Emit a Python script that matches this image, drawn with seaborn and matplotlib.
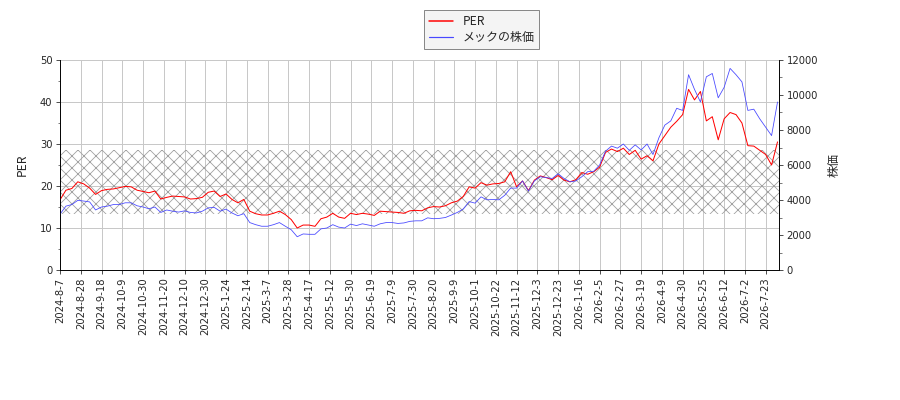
import numpy as np
import pandas as pd
import matplotlib
matplotlib.use('Agg')
import matplotlib.pyplot as plt
import seaborn as sns

# PER (4取引日ごとに読み取り)
per = [16.7, 19.0, 19.4, 21.0, 20.5, 19.5, 18.0, 18.9, 19.2, 19.3,
       19.6, 19.9, 19.8, 19.0, 18.7, 18.4, 18.8, 16.9, 17.3, 17.6,
       17.5, 17.4, 16.9, 17.0, 17.3, 18.5, 18.8, 17.5, 18.1, 16.8,
       16.0, 16.8, 14.0, 13.4, 13.1, 13.1, 13.5, 14.0, 13.2, 12.0,
       10.0, 10.7, 10.7, 10.4, 12.2, 12.6, 13.5, 12.6, 12.3, 13.5,
       13.2, 13.5, 13.3, 13.0, 14.0, 13.9, 13.8, 13.7, 13.5, 14.1,
       14.2, 14.1, 14.8, 15.1, 15.0, 15.3, 16.0, 16.4, 17.5, 19.8,
       19.5, 20.8, 20.2, 20.5, 20.6, 21.0, 23.4, 19.8, 21.2, 18.9,
       21.4, 22.4, 22.0, 21.5, 22.5, 21.4, 21.0, 21.5, 23.2, 22.8,
       23.4, 24.5, 28.0, 28.8, 28.2, 29.0, 27.5, 28.5, 26.4, 27.2,
       26.0, 30.0, 32.0, 34.0, 35.4, 37.0, 43.0, 40.5, 42.5, 35.5,
       36.5, 31.0, 36.0, 37.5, 37.0, 35.0, 29.6, 29.5, 28.5, 27.5,
       25.0, 30.5]

# 株価(円)
price = [3190, 3650, 3740, 3980, 3940, 3890, 3430, 3600, 3650, 3740,
         3740, 3840, 3840, 3670, 3600, 3500, 3600, 3290, 3430, 3360,
         3310, 3380, 3290, 3260, 3360, 3550, 3580, 3360, 3480, 3260,
         3100, 3220, 2710, 2590, 2500, 2500, 2590, 2710, 2500, 2300,
         1900, 2060, 2040, 2040, 2350, 2400, 2590, 2450, 2400, 2620,
         2540, 2640, 2570, 2500, 2640, 2710, 2710, 2660, 2690, 2780,
         2810, 2810, 2980, 2930, 2950, 3000, 3140, 3290, 3480, 3910,
         3820, 4180, 4010, 4030, 4010, 4270, 4680, 4680, 5090, 4510,
         5090, 5330, 5280, 5230, 5500, 5230, 5040, 5090, 5330, 5620,
         5640, 6000, 6790, 7080, 6960, 7200, 6840, 7150, 6860, 7200,
         6600, 7560, 8280, 8520, 9240, 9120, 11160, 10320, 9600, 11040,
         11230, 9840, 10440, 11520, 11160, 10750, 9120, 9190, 8640, 8160,
         7680, 9600]

# x軸の日付ラベル(14取引日ごと)
date_labels = ['2024-8-7', '2024-8-28', '2024-9-18', '2024-10-9', '2024-10-30',
               '2024-11-20', '2024-12-10', '2024-12-30', '2025-1-24', '2025-2-14',
               '2025-3-7', '2025-3-28', '2025-4-17', '2025-5-12', '2025-5-30',
               '2025-6-19', '2025-7-9', '2025-7-30', '2025-8-20', '2025-9-9',
               '2025-10-1', '2025-10-22', '2025-11-12', '2025-12-3', '2025-12-23',
               '2026-1-16', '2026-2-5', '2026-2-27', '2026-3-19', '2026-4-9',
               '2026-4-30', '2026-5-25', '2026-6-12', '2026-7-2', '2026-7-23']

# PERの網掛け範囲
per_band = [13.3, 28.6]

n_days = 486
step = 4
tick_step = 14

sns.set_style('white')
plt.rcParams['font.family'] = ['DejaVu Sans', 'Noto Sans CJK JP']
plt.rcParams['font.size'] = 10
plt.rcParams['hatch.linewidth'] = 0.8
jp_font = ['Noto Sans CJK JP', 'DejaVu Sans']

df = pd.DataFrame({'day': np.arange(len(per)) * step, 'PER': per, 'price': price})

fig, ax = plt.subplots(figsize=(12.5, 400 / 72), dpi=72)
fig.subplots_adjust(left=60 / 900, right=779 / 900, top=1 - 60 / 400, bottom=1 - 270 / 400)
ax2 = ax.twinx()

ax.axhspan(per_band[0], per_band[1], facecolor='none', edgecolor='#a0a0a0',
           linewidth=0, hatch='xx', zorder=1)

sns.lineplot(data=df, x='day', y='PER', ax=ax, color='red', lw=1.0, legend=False, zorder=3)
sns.lineplot(data=df, x='day', y='price', ax=ax2, color='#4848ff', lw=0.8, legend=False)

ax.set_xlim(0, n_days - 1)
ax.set_ylim(0, 50)
ax2.set_ylim(0, 12000)
ax.set_xticks(range(0, n_days, tick_step))
ax.set_xticklabels(date_labels, rotation=90)
ax.set_yticks(range(0, 51, 10))
ax.set_yticks(range(5, 50, 10), minor=True)
ax2.set_yticks(range(0, 12001, 2000))
ax2.set_yticks(range(1000, 12000, 2000), minor=True)
ax.tick_params(which='both', direction='out', left=True, bottom=True, length=4)
ax.tick_params(which='minor', length=2.5)
ax2.tick_params(which='both', direction='out', right=True, length=4)
ax2.tick_params(which='minor', length=2.5)

ax.grid(True, color='#c8c8c8', linewidth=1)
ax.set_axisbelow(True)
ax.set_xlabel('')
ax.set_ylabel('PER', family=jp_font, fontsize=12, labelpad=11)
ax2.set_ylabel('株価', family=jp_font, fontsize=12, labelpad=10)

for a in (ax, ax2):
    a.spines['top'].set_visible(False)
    for s in ('left', 'right', 'bottom'):
        a.spines[s].set_color('black')

handles = [plt.Line2D([], [], color='red', lw=1.5), plt.Line2D([], [], color='#4848ff', lw=1.2)]
fig.legend(handles, ['PER', 'メックの株価'], loc='upper center', bbox_to_anchor=(0.535, 0.99),
           fancybox=False, edgecolor='#888888', facecolor='#f4f4f4', framealpha=1,
           prop={'family': jp_font, 'size': 12}, labelspacing=0.3)

fig.savefig('out.png', dpi=72)
